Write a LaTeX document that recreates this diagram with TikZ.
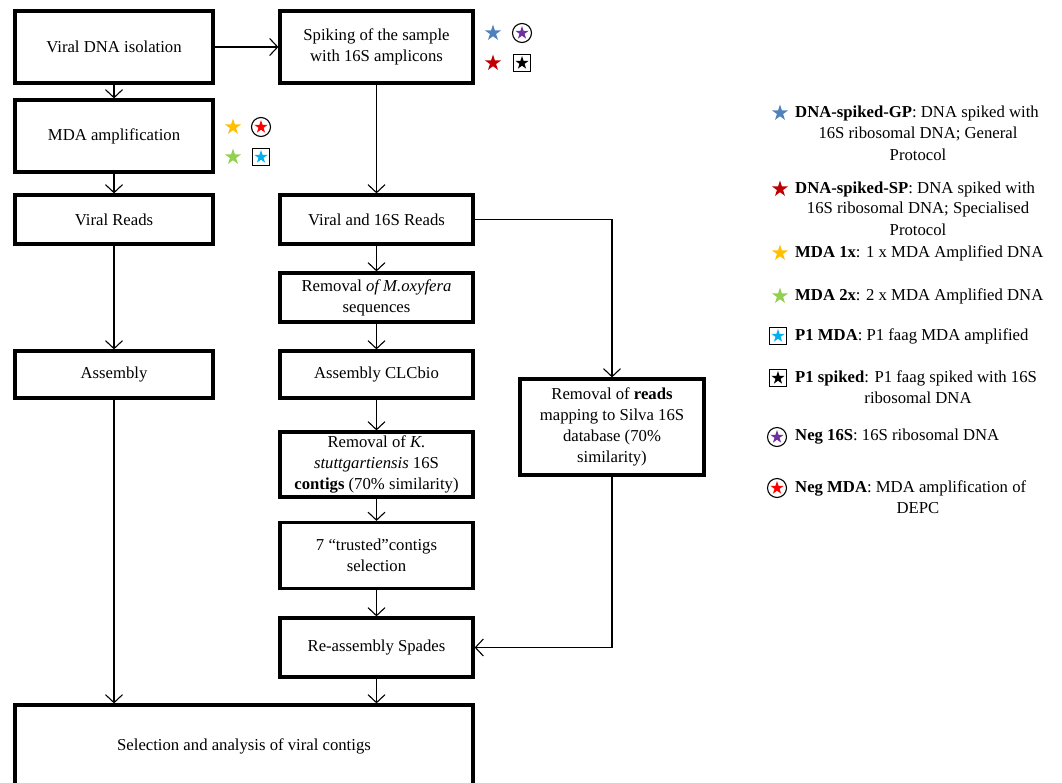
\documentclass[tikz,border=0pt]{standalone}
\usepackage{fontspec}
\setmainfont{Liberation Serif}
\usetikzlibrary{arrows.meta,shapes.geometric}
\definecolor{gpblue}{RGB}{79,129,189}
\definecolor{spred}{RGB}{192,0,0}
\definecolor{mdagold}{RGB}{255,192,0}
\definecolor{mdagreen}{RGB}{146,208,80}
\definecolor{pcyan}{RGB}{0,176,240}
\definecolor{negpurple}{RGB}{112,48,160}
\tikzset{every node/.style={font=\fontsize{16.7}{21}\selectfont},
  stepbox/.style={draw, line width=3.2pt, align=center, inner sep=2pt},
  flow/.style={-{Straight Barb[length=8pt,width=17pt]}, line width=1.1pt},
  sstar/.style={star, star points=5, star point ratio=2.618, minimum size=17pt, inner sep=0pt, draw=none, fill=#1},
  istar/.style={star, star points=5, star point ratio=2.618, minimum size=14pt, inner sep=0pt, draw=none, fill=#1},
  ring/.style={circle, draw, line width=1.1pt, minimum size=19pt, inner sep=0pt},
  sqbox/.style={rectangle, draw, line width=1.1pt, minimum size=17pt, inner sep=0pt},
  legfirst/.style={anchor=west, inner sep=0pt},
  legnext/.style={inner sep=0pt}}

\begin{document}
\begin{tikzpicture}[x=1pt,y=-1pt]
  \useasboundingbox (0,0) rectangle (1062,782);
  \node[stepbox, minimum width=198pt, minimum height=72pt] (iso)   at (114,47)    {Viral DNA isolation};
  \node[stepbox, minimum width=193pt, minimum height=72pt] (spike) at (376.5,47)  {Spiking of the sample\\with 16S amplicons};
  \node[stepbox, minimum width=198pt, minimum height=72pt] (mda)   at (114,136)   {MDA amplification};
  \node[stepbox, minimum width=198pt, minimum height=49pt] (vreads) at (114,219.5) {Viral Reads};
  \node[stepbox, minimum width=193pt, minimum height=49pt] (vsreads) at (376.5,219.5) {Viral and 16S Reads};
  \node[stepbox, minimum width=193pt, minimum height=49pt] (moxy)  at (376.5,297.5) {Removal \textit{of M.oxyfera}\\sequences};
  \node[stepbox, minimum width=198pt, minimum height=47pt] (asm)   at (114,374.5) {Assembly};
  \node[stepbox, minimum width=193pt, minimum height=47pt] (clc)   at (376.5,374.5) {Assembly CLCbio};
  \node[stepbox, minimum width=193pt, minimum height=65pt] (kstut) at (376.5,464.5) {Removal of \textit{K.}\\\textit{stuttgartiensis} 16S\\\textbf{contigs} (70\% similarity)};
  \node[stepbox, minimum width=184pt, minimum height=96pt] (silva) at (612,427)   {Removal of \textbf{reads}\\mapping to Silva 16S\\database (70\%\\similarity)};
  \node[stepbox, minimum width=193pt, minimum height=66pt] (trust) at (376.5,555.5) {7 ``trusted''contigs\\selection};
  \node[stepbox, minimum width=193pt, minimum height=59pt] (spades) at (376.5,647.5) {Re-assembly Spades};
  \node[stepbox, minimum width=458pt, minimum height=82pt] (sel)   at (244,746)   {Selection and analysis of viral contigs};

  \draw[flow] (iso) -- (spike);
  \draw[flow] (iso) -- (mda);
  \draw[flow] (mda) -- (vreads);
  \draw[flow] (vreads) -- (asm);
  \draw[flow] (asm) -- (asm |- sel.north);
  \draw[flow] (spike) -- (vsreads);
  \draw[flow] (vsreads) -- (moxy);
  \draw[flow] (moxy) -- (clc);
  \draw[flow] (clc) -- (kstut);
  \draw[flow] (kstut) -- (trust);
  \draw[flow] (trust) -- (spades);
  \draw[flow] (spades) -- (spades |- sel.north);
  \draw[flow] (vsreads) -| (silva);
  \draw[flow] (silva) |- (spades);

  \node[sstar=gpblue] (gpa) at (493,33) {};
  \node[ring] (nsa) at (522,33) {};
  \node[istar=negpurple] at (nsa) {};
  \node[sstar=spred] (spa) at (493,63) {};
  \node[sqbox] (p1a) at (522,63) {};
  \node[istar=black] at (p1a) {};
  \node[sstar=mdagold] (m1a) at (233,127) {};
  \node[ring] (nma) at (261,127) {};
  \node[istar=red] at (nma) {};
  \node[sstar=mdagreen] (m2a) at (233,157) {};
  \node[sqbox] (pma) at (261,157) {};
  \node[istar=pcyan] at (pma) {};

  \node[sstar=gpblue] (gpk) at (780,113) {};
  \node[legfirst] (gp1) at (795,113) {\textbf{DNA-spiked-GP}: DNA spiked with};
  \node[legnext] (gp2) at (918,134) {16S ribosomal DNA; General};
  \node[legnext] (gp3) at (918,155) {Protocol};
  \node[sstar=spred] (spk) at (780,189) {};
  \node[legfirst] (sp1) at (795,189) {\textbf{DNA-spiked-SP}: DNA spiked with};
  \node[legnext] (sp2) at (918,209) {16S ribosomal DNA; Specialised};
  \node[legnext] (sp3) at (918,230) {Protocol};
  \node[sstar=mdagold] (m1k) at (780,253) {};
  \node[legfirst] (m1t) at (795,253) {\textbf{MDA 1x}: 1 x MDA Amplified DNA};
  \node[sstar=mdagreen] (m2k) at (780,296) {};
  \node[legfirst] (m2t) at (795,296) {\textbf{MDA 2x}: 2 x MDA Amplified DNA};
  \node[sqbox] (pmk) at (778,336) {};
  \node[istar=pcyan] at (pmk) {};
  \node[legfirst] (pmt) at (795,336) {\textbf{P1 MDA}: P1 faag MDA amplified};
  \node[sqbox] (p1k) at (778,378) {};
  \node[istar=black] at (p1k) {};
  \node[legfirst] (p1t) at (795,378) {\textbf{P1 spiked}: P1 faag spiked with 16S};
  \node[legnext] (p1u) at (918,398) {ribosomal DNA};
  \node[ring] (nsk) at (777,437) {};
  \node[istar=negpurple] at (nsk) {};
  \node[legfirst] (nst) at (795,437) {\textbf{Neg 16S}: 16S ribosomal DNA};
  \node[ring] (nmk) at (777,488) {};
  \node[istar=red] at (nmk) {};
  \node[legfirst] (nmt) at (795,488) {\textbf{Neg MDA}: MDA amplification of};
  \node[legnext] (nmu) at (918,508) {DEPC};
\end{tikzpicture}
\end{document}
